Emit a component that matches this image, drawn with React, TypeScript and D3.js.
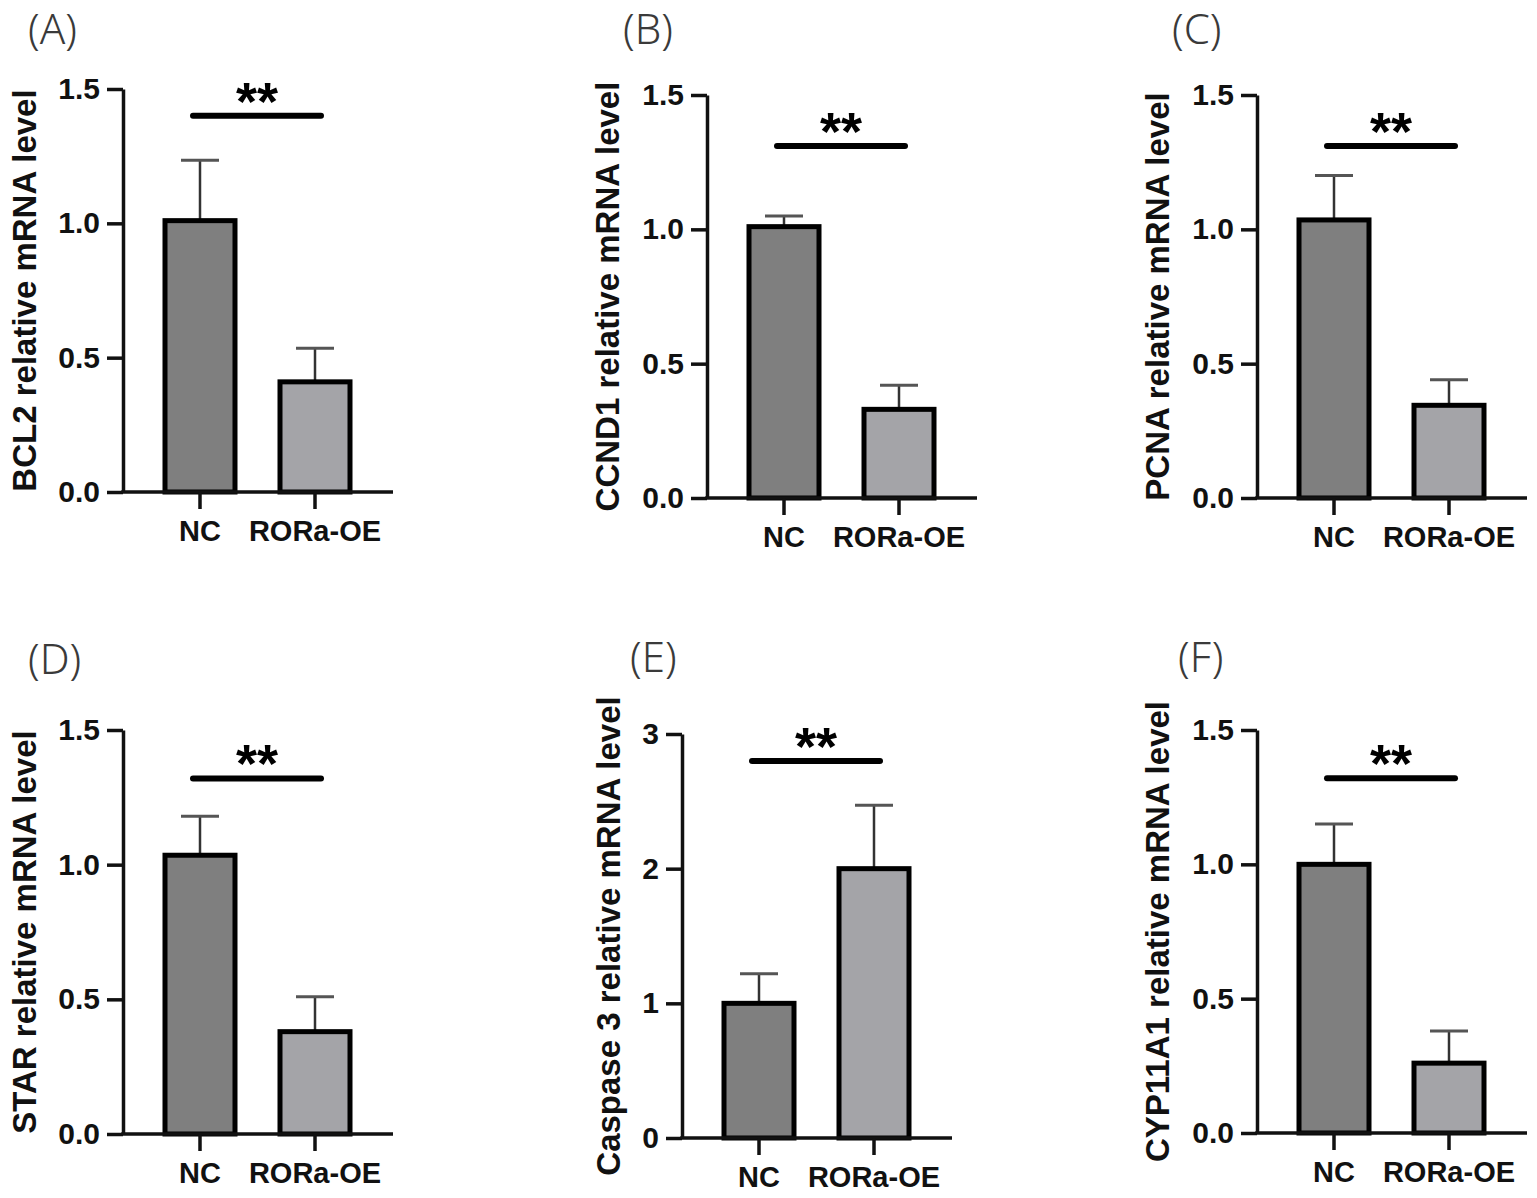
import { useEffect, useRef } from "react";
import * as d3 from "d3";

// ── Data ─────────────────────────────────────────────────────────────────────

const groups = ["NC", "RORa-OE"];
const panelTags = ["(A)", "(B)", "(C)", "(D)", "(E)", "(F)"];
const genes = ["BCL2", "CCND1", "PCNA", "STAR", "Caspase 3", "CYP11A1"];

const ncMean = [1.01, 1.01, 1.035, 1.035, 1.0, 1.0];
const ncErr = [0.225, 0.04, 0.165, 0.145, 0.22, 0.15];
const oeMean = [0.41, 0.33, 0.345, 0.38, 2.0, 0.26];
const oeErr = [0.125, 0.09, 0.095, 0.13, 0.47, 0.12];

const yMaxes = [1.5, 1.5, 1.5, 1.5, 3, 1.5];
const ticksDecimal = [0, 0.5, 1.0, 1.5];
const ticksInteger = [0, 1, 2, 3];
const sigLevels = [1.4, 1.31, 1.31, 1.32, 2.8, 1.32];
const sigText = "**";

// ── Layout ───────────────────────────────────────────────────────────────────

const W = 1537;
const H = 1198;
const axisX = [123, 707, 1257, 123, 682, 1257];
const axisTop = [89, 95, 95, 730, 734, 730];
const axisBottom = [492, 498, 498, 1134, 1138, 1133];
const titleOffset = [87, 88, 88, 87, 62, 88];
const tagX = [28, 623, 1172, 28, 630, 1178];
const tagY = [44, 44, 44, 674, 672, 672];

const FILL_NC = "#7f7f7f";
const FILL_OE = "#a4a4a8";
const FONT = "'Liberation Sans', Arial, sans-serif";

export default function App() {
  const svgRef = useRef<SVGSVGElement>(null);

  useEffect(() => {
    if (!svgRef.current) return;
    const svg = d3.select(svgRef.current);
    svg.selectAll("*").remove();

    genes.forEach((gene, i) => {
      const x0 = axisX[i];
      const g = svg.append("g");

      const y = d3
        .scaleLinear()
        .domain([0, yMaxes[i]])
        .range([axisBottom[i], axisTop[i]]);

      const x = d3
        .scalePoint<string>()
        .domain(groups)
        .range([x0 + 77, x0 + 192]);

      const isInt = yMaxes[i] > 2;
      const fmt = isInt ? d3.format("d") : d3.format(".1f");

      // panel tag
      g.append("text")
        .attr("x", tagX[i])
        .attr("y", tagY[i])
        .attr("font-family", "'Noto Sans', 'DejaVu Sans', sans-serif")
        .attr("font-weight", 300)
        .attr("font-size", 42)
        .attr("fill", "#3a3a3a")
        .text(panelTags[i]);

      // ── bars + error bars ──
      const means = [ncMean[i], oeMean[i]];
      const errs = [ncErr[i], oeErr[i]];
      const fills = [FILL_NC, FILL_OE];
      const barW = 70;

      groups.forEach((grp, k) => {
        const cx = x(grp)!;
        const top = y(means[k] + errs[k]);
        g.append("line")
          .attr("x1", cx).attr("x2", cx)
          .attr("y1", y(means[k])).attr("y2", top)
          .attr("stroke", "#333").attr("stroke-width", 2.5);
        g.append("line")
          .attr("x1", cx - 19).attr("x2", cx + 19)
          .attr("y1", top).attr("y2", top)
          .attr("stroke", "#555").attr("stroke-width", 3);
        g.append("rect")
          .attr("x", cx - barW / 2)
          .attr("y", y(means[k]))
          .attr("width", barW)
          .attr("height", y(0) - y(means[k]))
          .attr("fill", fills[k])
          .attr("stroke", "#000")
          .attr("stroke-width", 5);
      });

      // ── y axis ──
      g.append("g")
        .attr("transform", `translate(${x0},0)`)
        .call(
          d3.axisLeft(y)
            .tickValues(isInt ? ticksInteger : ticksDecimal)
            .tickSize(16)
            .tickPadding(7)
            .tickFormat((v) => fmt(Number(v)))
            .tickSizeOuter(0)
        )
        .call((ag) => ag.select(".domain").attr("stroke", "#111").attr("stroke-width", 3.5))
        .call((ag) => ag.selectAll(".tick line").attr("stroke", "#111").attr("stroke-width", 3.5))
        .call((ag) =>
          ag.selectAll(".tick text")
            .attr("fill", "#111")
            .attr("font-family", FONT)
            .attr("font-weight", 700)
            .attr("font-size", 30)
        );

      // ── x axis ──
      g.append("line")
        .attr("x1", x0 - 1.75).attr("x2", x0 + 270)
        .attr("y1", y(0)).attr("y2", y(0))
        .attr("stroke", "#111").attr("stroke-width", 3.5);

      groups.forEach((grp) => {
        const cx = x(grp)!;
        g.append("line")
          .attr("x1", cx).attr("x2", cx)
          .attr("y1", y(0)).attr("y2", y(0) + 17)
          .attr("stroke", "#111").attr("stroke-width", 3.5);
        g.append("text")
          .attr("x", cx)
          .attr("y", y(0) + 49)
          .attr("text-anchor", "middle")
          .attr("font-family", FONT)
          .attr("font-weight", 700)
          .attr("font-size", 29)
          .attr("fill", "#111")
          .text(grp);
      });

      // ── axis title ──
      g.append("text")
        .attr("transform", `translate(${x0 - titleOffset[i]},${(axisTop[i] + axisBottom[i]) / 2}) rotate(-90)`)
        .attr("text-anchor", "middle")
        .attr("font-family", FONT)
        .attr("font-weight", 700)
        .attr("font-size", 33)
        .attr("fill", "#111")
        .text(`${gene} relative mRNA level`);

      // ── significance bar ──
      const sy = y(sigLevels[i]);
      g.append("line")
        .attr("x1", x0 + 70).attr("x2", x0 + 198)
        .attr("y1", sy).attr("y2", sy)
        .attr("stroke", "#000").attr("stroke-width", 6)
        .attr("stroke-linecap", "round");
      g.append("text")
        .attr("x", x0 + 134)
        .attr("y", sy + 4)
        .attr("text-anchor", "middle")
        .attr("font-family", FONT)
        .attr("font-weight", 700)
        .attr("font-size", 54)
        .attr("fill", "#000")
        .text(sigText);
    });
  }, []);

  return (
    <div style={{ position: "absolute", left: 0, top: 0, background: "#fff" }}>
      <svg ref={svgRef} width={W} height={H} style={{ display: "block" }} />
    </div>
  );
}
